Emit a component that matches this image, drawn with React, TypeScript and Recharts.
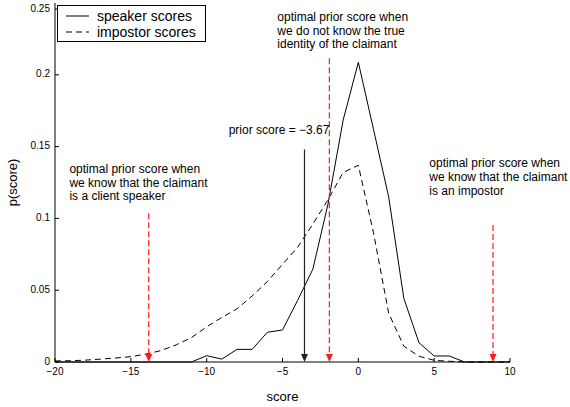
import React from 'react';
import {
  Legend, Line, LineChart, ReferenceDot, ReferenceLine, XAxis, YAxis,
} from 'recharts';

const scores = [
  -20, -19, -18, -17, -16, -15, -14, -13, -12, -11,
  -10, -9, -8, -7, -6, -5, -4, -3, -2, -1,
  0, 1, 2, 3, 4, 5, 6, 7, 8, 9, 10,
];
const speakerScores = [
  0, 0, 0, 0, 0, 0, 0, 0, 0, 0,
  0.0044, 0.002, 0.0088, 0.0088, 0.0207, 0.0223, 0.043, 0.0646, 0.11, 0.1685,
  0.2087, 0.162, 0.115, 0.0443, 0.0134, 0.0042, 0.0042, 0, 0, 0, 0,
];
const impostorScores = [
  0.0007, 0.0009, 0.0013, 0.002, 0.0028, 0.0037, 0.0055, 0.008, 0.012, 0.017,
  0.0245, 0.031, 0.037, 0.046, 0.056, 0.068, 0.08, 0.096, 0.113, 0.132,
  0.137, 0.09, 0.034, 0.011, 0.004, 0.0012, 0.0005, 0, 0, 0, 0,
];
const seriesKeys = ['speaker', 'impostor'];
const seriesNames = ['speaker scores', 'impostor scores'];
const xTicks = [-20, -15, -10, -5, 0, 5, 10];
const yTicks = [0, 0.05, 0.1, 0.15, 0.2, 0.25];

// optimal prior scores (red arrows) and the prior score actually used
const optimalPriorScores = [-13.82, -1.91, 8.88];
const optimalArrowTops = [0.1036, 0.2115, 0.0954];
const priorScore = -3.55;
const priorArrowTop = 0.148;

const noteTexts = [
  ['optimal prior score when', 'we know that the claimant', 'is a client speaker'],
  ['optimal prior score when', 'we do not know the true', 'identity of the claimant'],
  ['optimal prior score when', 'we know that the claimant', 'is an impostor'],
];
const noteAnchors = [
  { x: -19.05, y: 0.1344 },
  { x: -5.34, y: 0.2403 },
  { x: 4.68, y: 0.1384 },
];
const priorLabel = 'prior score = \u22123.67';
const priorLabelAnchor = { x: -8.55, y: 0.1616 };

const font = '"Liberation Sans", Arial, Helvetica, sans-serif';

const data = scores.map((s, i) => ({
  score: s,
  speaker: speakerScores[i],
  impostor: impostorScores[i],
}));

const fmtX = (v: number) => (v < 0 ? '\u2212' + Math.abs(v) : String(v));

const BottomTick = (props: any) => {
  const { x, y, payload } = props;
  return (
    <g>
      <line x1={x} x2={x} y1={y} y2={y - 4} stroke='#000'/>
      <text x={x} y={y + 9} textAnchor='middle' dominantBaseline='central'
        fontSize={10} fontFamily={font} fill='#000'>{fmtX(payload.value)}</text>
    </g>
  );
};

const TopTick = (props: any) => {
  const { x, y } = props;
  return <line x1={x} x2={x} y1={y} y2={y + 4} stroke='#000'/>;
};

const LeftTick = (props: any) => {
  const { x, y, payload } = props;
  return (
    <g>
      <line x1={x} x2={x + 4} y1={y} y2={y} stroke='#000'/>
      <text x={x - 5} y={y - 1} textAnchor='end' dominantBaseline='central'
        fontSize={10} fontFamily={font} fill='#000'>{String(payload.value)}</text>
    </g>
  );
};

const RightTick = (props: any) => {
  const { x, y } = props;
  return <line x1={x} x2={x - 4} y1={y} y2={y} stroke='#000'/>;
};

const arrowShape = (color: string, dash?: string) => (props: any) => {
  const { x1, y1, x2, y2 } = props;
  const top = Math.min(y1, y2);
  const bottom = Math.max(y1, y2);
  return (
    <g>
      <line x1={x1} x2={x2} y1={top} y2={bottom - 7} stroke={color}
        strokeWidth={1.2} strokeDasharray={dash}/>
      <polygon points={`${x1 - 3.5},${bottom - 8} ${x1 + 3.5},${bottom - 8} ${x1},${bottom}`}
        fill={color}/>
    </g>
  );
};

const noteShape = (lines: string[]) => (props: any) => {
  const { cx, cy } = props;
  return (
    <text x={cx} y={cy} fontSize={12} fontFamily={font} fill='#000'>
      {lines.map((l, i) => (
        <tspan key={i} x={cx} y={cy + i * 13.7} dominantBaseline='central'>{l}</tspan>
      ))}
    </text>
  );
};

const LegendBox = (props: any) => {
  const payload = [...(props.payload || [])].sort(
    (a: any, b: any) => seriesKeys.indexOf(a.dataKey) - seriesKeys.indexOf(b.dataKey),
  );
  return (
    <div style={{
      boxSizing: 'border-box', width: 149, height: 37, border: '1.5px solid #000',
      background: '#fff', padding: '2px 0 0 8px', fontFamily: font, fontSize: 14, color: '#000',
    }}>
      {payload.map((entry: any) => (
        <div key={entry.value} style={{ display: 'flex', alignItems: 'center', height: 16 }}>
          <svg width={23} height={10}>
            <line x1={0} x2={23} y1={5} y2={5} stroke='#000'
              strokeDasharray={entry.dataKey === 'impostor' ? '6 4' : undefined}/>
          </svg>
          <span style={{ marginLeft: 8, lineHeight: '16px' }}>{entry.value}</span>
        </div>
      ))}
    </div>
  );
};

export default function App(): JSX.Element {
  return (
    <div style={{ position: 'absolute', left: 0, top: 0, background: '#fff' }}>
      <LineChart
        width={570}
        height={407}
        data={data}
        margin={{
          top: 3, right: 60, left: 0, bottom: 0,
        }}
      >
        <XAxis dataKey='score' type='number' domain={[-20, 10]} ticks={xTicks}
          height={45} tickSize={0} tickMargin={0} tickLine={false}
          axisLine={{ stroke: '#000' }} tick={<BottomTick/>}
          label={{ value: 'score', position: 'insideBottom', offset: 6, fontSize: 13, fontFamily: font, fill: '#000' }}/>
        <XAxis xAxisId='top' orientation='top' type='number' domain={[-20, 10]} ticks={xTicks}
          height={0} tickSize={0} tickMargin={0} tickLine={false}
          axisLine={{ stroke: '#000' }} tick={<TopTick/>}/>
        <YAxis type='number' domain={[0, 0.25]} ticks={yTicks} width={55}
          tickSize={0} tickMargin={0} tickLine={false}
          axisLine={{ stroke: '#000' }} tick={<LeftTick/>}
          label={{
            value: 'p(score)', angle: -90, position: 'insideLeft', offset: 12,
            fontSize: 13, fontFamily: font, fill: '#000', style: { textAnchor: 'middle' },
          }}/>
        <YAxis yAxisId='right' orientation='right' type='number' domain={[0, 0.25]} ticks={yTicks}
          width={0} tickSize={0} tickMargin={0} tickLine={false}
          axisLine={{ stroke: '#000' }} tick={<RightTick/>}/>
        <Legend content={<LegendBox/>} layout='horizontal' verticalAlign='middle' align='center'
          wrapperStyle={{ left: 57, top: 5, width: 149, height: 37 }}/>
        <Line dataKey={seriesKeys[0]} name={seriesNames[0]} type='linear' stroke='#000'
          strokeWidth={1} dot={false} activeDot={false} isAnimationActive={false}/>
        <Line dataKey={seriesKeys[1]} name={seriesNames[1]} type='linear' stroke='#000'
          strokeWidth={1} strokeDasharray='6 4' dot={false} activeDot={false} isAnimationActive={false}/>
        {optimalPriorScores.map((s, i) => (
          <ReferenceLine key={'opt' + i}
            segment={[{ x: s, y: optimalArrowTops[i] }, { x: s, y: 0 }]}
            shape={arrowShape('#ff1a1a', '6 3')}/>
        ))}
        <ReferenceLine
          segment={[{ x: priorScore, y: priorArrowTop }, { x: priorScore, y: 0 }]}
          shape={arrowShape('#222')}/>
        {noteTexts.map((lines, i) => (
          <ReferenceDot key={'note' + i} x={noteAnchors[i].x} y={noteAnchors[i].y}
            r={0} shape={noteShape(lines)}/>
        ))}
        <ReferenceDot x={priorLabelAnchor.x} y={priorLabelAnchor.y} r={0}
          shape={noteShape([priorLabel])}/>
      </LineChart>
    </div>
  );
}
